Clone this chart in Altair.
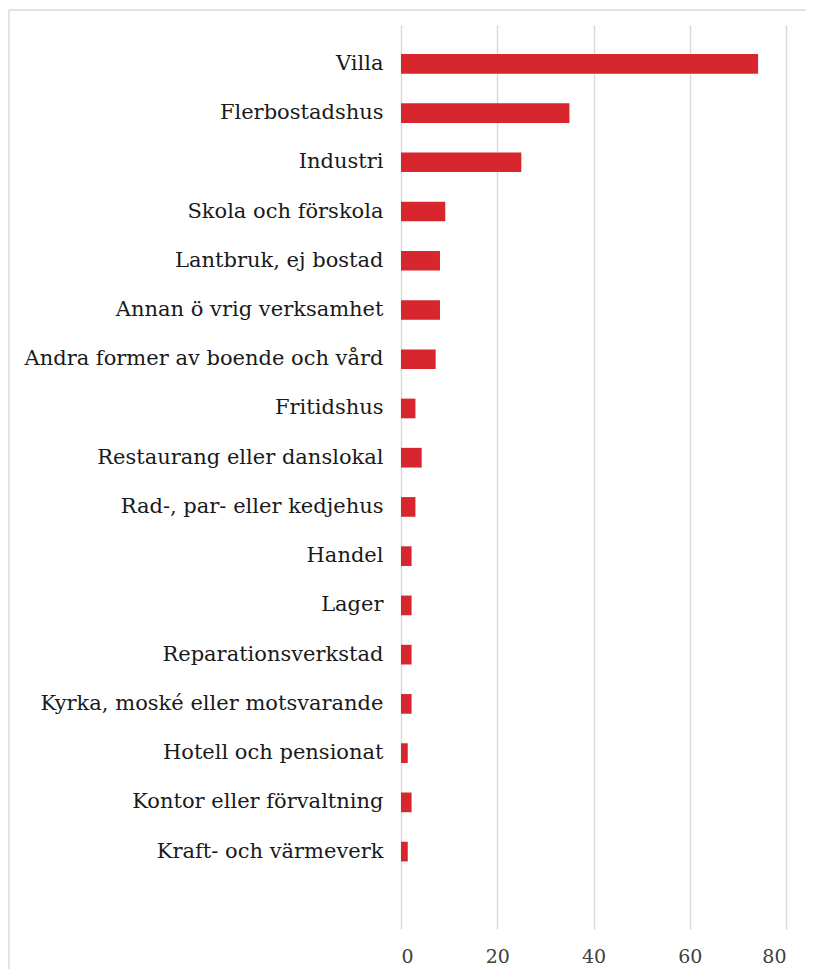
import altair as alt
import pandas as pd

categories = [
    "Villa", "Flerbostadshus", "Industri", "Skola och förskola",
    "Lantbruk, ej bostad", "Annan ö vrig verksamhet",
    "Andra former av boende och vård", "Fritidshus",
    "Restaurang eller danslokal", "Rad-, par- eller kedjehus", "Handel",
    "Lager", "Reparationsverkstad", "Kyrka, moské eller motsvarande",
    "Hotell och pensionat", "Kontor eller förvaltning", "Kraft- och värmeverk",
]
values = [74.2, 35.0, 25.0, 9.2, 8.1, 8.1, 7.2, 3.0, 4.3, 3.0, 2.2, 2.2, 2.2,
          2.2, 1.4, 2.2, 1.4]

df = pd.DataFrame({"kategori": categories, "antal": values})

FONT = "DejaVu Serif"

bars = alt.Chart(df).mark_bar(color="#d7262e").encode(
    x=alt.X("antal:Q",
            scale=alt.Scale(domain=[0, 80], nice=False),
            axis=alt.Axis(values=[0, 20, 40, 60, 80], title=None, ticks=False,
                          domain=False, grid=True, gridColor="#d9d9d9",
                          gridWidth=1.5, labelFont=FONT, labelFontSize=19,
                          labelColor="#404040", labelPadding=18)),
    y=alt.Y("kategori:N", sort=None,
            scale=alt.Scale(paddingInner=0.6, paddingOuter=0.98, align=0.3),
            axis=alt.Axis(title=None, ticks=False, domain=False,
                          labelFont=FONT, labelFontSize=21, labelColor="#1a1a1a",
                          labelPadding=18, labelLimit=400)),
)

frame_df = pd.DataFrame({"f": [0]})
top_line = alt.Chart(frame_df).mark_rule(color="#d9d9d9", strokeWidth=1.5).encode(
    x=alt.value(-392), x2=alt.value(405), y=alt.value(-15))
left_line = alt.Chart(frame_df).mark_rule(color="#d9d9d9", strokeWidth=1.5).encode(
    x=alt.value(-392), y=alt.value(-15), y2=alt.value(945))

chart = alt.layer(bars, top_line, left_line).properties(
    width=385, height=904,
    autosize=alt.AutoSizeParams(type="none"),
    padding={"left": 393, "top": 17, "right": 20, "bottom": 40},
).configure_view(stroke=None)

chart.save("out.html", embed_options={"renderer": "svg", "actions": False})
